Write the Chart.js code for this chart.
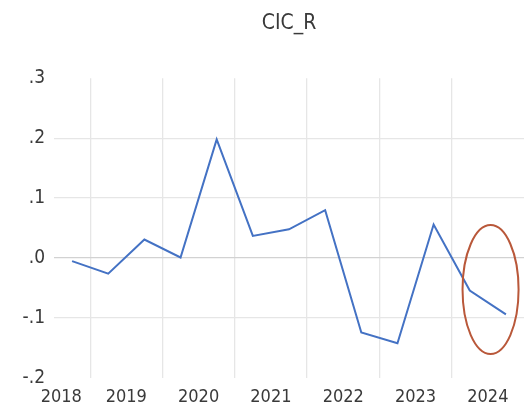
<!DOCTYPE html>
<html>
<head>
<meta charset="utf-8">
<script src="https://cdn.jsdelivr.net/npm/chart.js@4.4.1/dist/chart.umd.min.js"></script>
<style>
  html, body { margin: 0; padding: 0; background: #fff; }
  #wrap { width: 524px; height: 413px; }
</style>
</head>
<body>
<div id="wrap"><canvas id="chart"></canvas></div>
<script>
// --- data (half-year observations, 2018H2 .. 2024H2) ---
const periods = ["2018H2", "2019H1", "2019H2", "2020H1", "2020H2", "2021H1", "2021H2",
                 "2022H1", "2022H2", "2023H1", "2023H2", "2024H1", "2024H2"];
const cicR = [-0.005, -0.026, 0.031, 0.001, 0.198, 0.037, 0.048,
              0.080, -0.124, -0.142, 0.056, -0.054, -0.094];

// year labels and where they sit on the half-year axis
const yearLabels = ["2018", "2019", "2020", "2021", "2022", "2023", "2024"];
const yearPos = [0.2, 2, 4, 6, 8, 10, 12];
// vertical separators between years
const yearBreaks = [1, 3, 5, 7, 9, 11];

const yTicks = [-0.2, -0.1, 0.0, 0.1, 0.2, 0.3];

// highlighted region (data units) — the circled last two points
const highlight = { xFrom: 11.3, xTo: 12.85, yFrom: 0.055, yTo: -0.16 };

const FONT = "'Liberation Sans Narrow', 'DejaVu Sans Condensed', sans-serif";
const TEXT = "#3a3a3a";

const points = cicR.map((v, i) => ({ x: i + 0.5, y: v }));

// draws the orange ellipse over the last points
const ellipsePlugin = {
  id: "ellipse",
  afterDatasetsDraw(chart) {
    const { ctx, scales } = chart;
    const x1 = scales.x.getPixelForValue(highlight.xFrom);
    const x2 = scales.x.getPixelForValue(highlight.xTo);
    const y1 = scales.y.getPixelForValue(highlight.yFrom);
    const y2 = scales.y.getPixelForValue(highlight.yTo);
    ctx.save();
    ctx.beginPath();
    ctx.ellipse((x1 + x2) / 2, (y1 + y2) / 2, Math.abs(x2 - x1) / 2, Math.abs(y2 - y1) / 2, 0, 0, Math.PI * 2);
    ctx.strokeStyle = "#b9583a";
    ctx.lineWidth = 2;
    ctx.stroke();
    ctx.restore();
  }
};

new Chart(document.getElementById("chart"), {
  type: "line",
  data: {
    datasets: [{
      label: "CIC_R",
      data: points,
      borderColor: "#4472c4",
      borderWidth: 2,
      pointRadius: 0,
      tension: 0
    }]
  },
  options: {
    responsive: true,
    maintainAspectRatio: false,
    animation: false,
    layout: { padding: { left: 0, right: 0, top: 0, bottom: 0 } },
    plugins: {
      legend: { display: false },
      tooltip: { enabled: false },
      title: {
        display: true,
        text: "CIC_R",
        fullSize: false,
        color: TEXT,
        font: { family: FONT, size: 21, weight: "normal" },
        padding: { top: 11, bottom: 42 }
      }
    },
    scales: {
      x: {
        type: "linear",
        min: 0,
        max: periods.length,
        afterBuildTicks(scale) {
          const t = yearPos.map(v => ({ value: v })).concat(yearBreaks.map(v => ({ value: v })));
          t.sort((a, b) => a.value - b.value);
          scale.ticks = t;
        },
        afterFit(scale) { scale.height = 35; },
        ticks: {
          autoSkip: false,
          maxRotation: 0,
          padding: 9,
          color: TEXT,
          font: { family: FONT, size: 18 },
          callback(value) {
            const k = yearPos.indexOf(value);
            return k >= 0 ? yearLabels[k] : "";
          }
        },
        grid: {
          drawTicks: false,
          lineWidth: 1.3,
          color(ctx) {
            return ctx.tick && yearBreaks.includes(ctx.tick.value) ? "#e6e6e6" : "rgba(0,0,0,0)";
          }
        },
        border: { display: false }
      },
      y: {
        min: -0.2,
        max: 0.3,
        afterBuildTicks(scale) {
          scale.ticks = yTicks.map(v => ({ value: v }));
        },
        afterFit(scale) { scale.width = 54; },
        ticks: {
          padding: 9,
          color: TEXT,
          font: { family: FONT, size: 19 },
          callback(value) {
            return value.toFixed(1).replace("0.", ".");
          }
        },
        grid: {
          drawTicks: false,
          lineWidth: 1.3,
          color(ctx) {
            const v = ctx.tick ? ctx.tick.value : null;
            if (v === null || Math.abs(v - 0.3) < 1e-9 || Math.abs(v + 0.2) < 1e-9) return "rgba(0,0,0,0)";
            return Math.abs(v) < 1e-9 ? "#d2d2d2" : "#e6e6e6";
          }
        },
        border: { display: false }
      }
    }
  },
  plugins: [ellipsePlugin]
});
</script>
</body>
</html>
